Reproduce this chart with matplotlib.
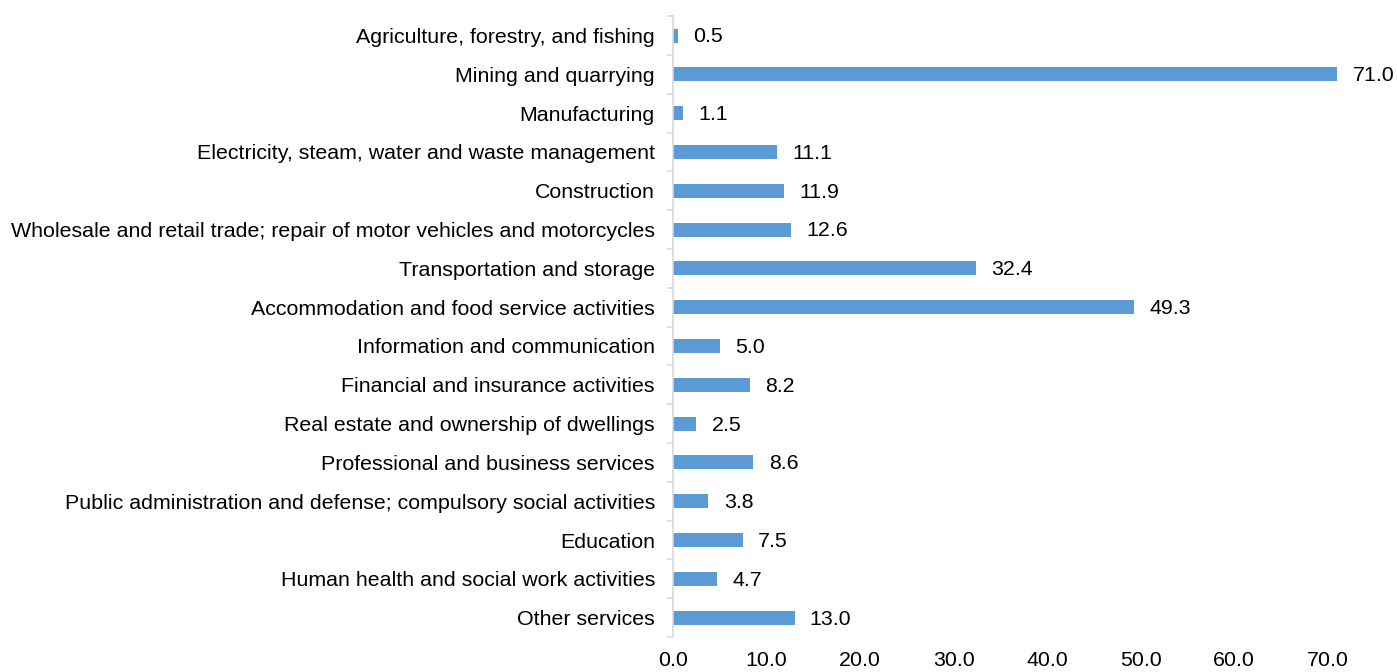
import numpy as np
import matplotlib.pyplot as plt

plt.rcParams.update({"font.family": ["Liberation Sans", "DejaVu Sans"], "font.size": 15.4})

sectors = [
    "Agriculture, forestry, and fishing",
    "Mining and quarrying",
    "Manufacturing",
    "Electricity, steam, water and waste management",
    "Construction",
    "Wholesale and retail trade; repair of motor vehicles and motorcycles",
    "Transportation and storage",
    "Accommodation and food service activities",
    "Information and communication",
    "Financial and insurance activities",
    "Real estate and ownership of dwellings",
    "Professional and business services",
    "Public administration and defense; compulsory social activities",
    "Education",
    "Human health and social work activities",
    "Other services",
]
values = [0.5, 71.0, 1.1, 11.1, 11.9, 12.6, 32.4, 49.3, 5.0, 8.2, 2.5, 8.6, 3.8, 7.5, 4.7, 13.0]
xticks = [0, 10, 20, 30, 40, 50, 60, 70]

BAR = "#5B9BD5"
GRID = "#D9D9D9"

fig = plt.figure(figsize=(13.97, 6.72), dpi=100)
ax = fig.add_axes([0.4817, 0.052, 0.5183, 0.924])

y = np.arange(len(sectors))
ax.barh(y, values, height=0.36, color=BAR)
for yi, v in zip(y, values):
    ax.annotate(f"{v:.1f}", (v, yi), xytext=(11, -1), textcoords="offset points",
                va="center", ha="left")

ax.set_ylim(len(sectors) - 0.5, -0.5)
ax.set_xlim(0, 77.4)
ax.set_yticks(y)
ax.set_yticklabels(sectors)
ax.set_yticks(np.arange(len(sectors) + 1) - 0.5, minor=True)
ax.tick_params(axis="y", which="major", length=0, pad=13)
ax.tick_params(axis="y", which="minor", length=4.5, color=GRID, width=1.2)
ax.set_xticks(xticks)
ax.set_xticklabels([f"{t:.1f}" for t in xticks])
ax.tick_params(axis="x", length=0, pad=10)

for side in ["top", "right", "bottom"]:
    ax.spines[side].set_visible(False)
ax.spines["left"].set_color(GRID)
ax.spines["left"].set_linewidth(1.2)

fig.savefig("out.png", dpi=100)
